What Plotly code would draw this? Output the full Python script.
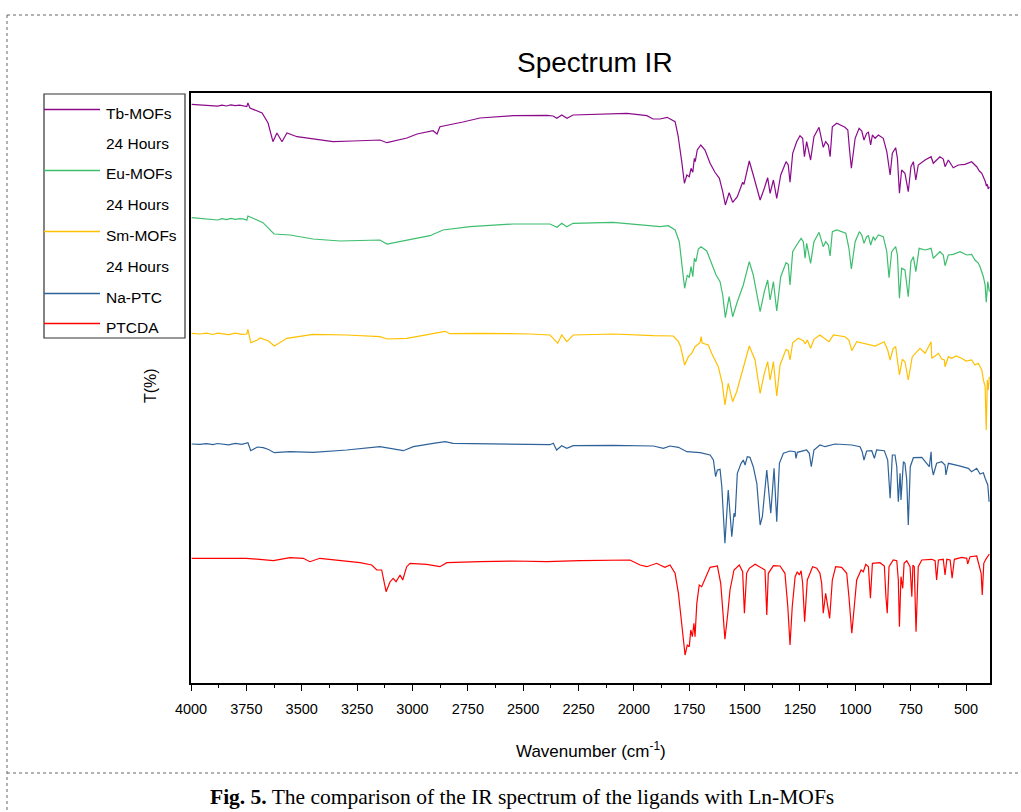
import plotly.graph_objects as go

# ---------------- data (wavenumber cm-1, stacked T values) -------------
tb_wn = [3997, 3960, 3930, 3901, 3880, 3860, 3840, 3820, 3800, 3780, 3760, 3748, 3743, 3734, 3679, 3652,
         3630, 3612, 3589, 3567, 3521, 3449, 3359, 3269, 3147, 3115, 3025, 2979, 2907, 2889, 2876,
         2772, 2695, 2546, 2392, 2365, 2348, 2326, 2302, 2275, 2031, 1941, 1914, 1882, 1850, 1814,
         1801, 1784, 1772, 1761, 1750, 1742, 1734, 1727, 1723, 1714, 1698, 1679, 1656, 1634, 1614,
         1599, 1587, 1570, 1554, 1533, 1509, 1503, 1479, 1461, 1430, 1411, 1396, 1385, 1370, 1355,
         1337, 1313, 1303, 1295, 1283, 1265, 1250, 1238, 1230, 1220, 1202, 1187, 1164, 1145, 1134,
         1122, 1114, 1104, 1084, 1047, 1034, 1027, 1018, 1001, 983, 971, 961, 949, 941, 931, 923,
         911, 896, 874, 858, 843, 833, 818, 810, 801, 791, 776, 761, 749, 738, 727, 716, 685, 658,
         648, 618, 603, 595, 580, 558, 535, 505, 475, 452, 440, 429, 420, 414, 408, 404, 400, 395]
tb_t = [578.7, 578.2, 577.6, 577.5, 576.9, 577.9, 577.0, 578.1, 577.3, 577.8, 577.4, 576.5, 580.0, 575.0, 570.0, 560.0,
        541.3, 550.0, 541.3, 550.0, 546.3, 544.0, 541.3, 542.0, 543.0, 540.3, 545.0, 549.0, 552.3, 549.0, 556.3,
        561.0, 565.0, 567.3, 567.7, 567.0, 564.7, 568.0, 564.7, 568.0, 569.7, 567.3, 564.0, 564.0, 565.7, 561.3,
        548.0, 521.3, 499.7, 508.0, 506.3, 514.7, 510.7, 524.7, 521.3, 533.0, 538.0, 533.0, 519.7, 510.7, 504.7,
        491.3, 478.0, 490.3, 480.7, 486.3, 500.7, 498.7, 522.0, 508.0, 483.0, 494.7, 505.3, 489.7, 503.0, 484.7,
        508.0, 521.3, 518.0, 500.7, 529.7, 541.3, 547.3, 544.7, 526.3, 541.3, 523.0, 546.3, 555.7, 535.7, 541.3,
        538.0, 526.3, 556.3, 559.7, 555.7, 553.0, 534.7, 514.7, 544.7, 554.7, 552.0, 543.0, 549.7, 550.7, 538.0, 548.0,
        544.7, 548.0, 544.7, 531.3, 508.0, 529.7, 535.3, 524.7, 489.7, 513.0, 509.7, 491.3, 516.3, 521.3, 503.0, 518.0, 523.0, 526.3,
        519.7, 526.3, 524.0, 516.3, 523.0, 515.3, 518.0, 518.7, 521.3, 516.3, 512.0, 509.7, 505.0, 502.0, 497.0, 498.7, 494.0, 496.3]

eu_wn = [3997, 3960, 3930, 3901, 3880, 3860, 3840, 3820, 3800, 3780, 3760, 3748, 3743, 3675, 3643, 3625,
         3553, 3449, 3327, 3147, 3115, 3025, 2921, 2862, 2740, 2546, 2379, 2347, 2326, 2303, 2275, 2094,
         1941, 1882, 1845, 1814, 1795, 1783, 1771, 1759, 1750, 1742, 1734, 1727, 1720, 1709, 1697, 1671,
         1649, 1629, 1611, 1599, 1587, 1570, 1554, 1533, 1506, 1479, 1461, 1430, 1411, 1396, 1385, 1370,
         1355, 1337, 1313, 1303, 1295, 1283, 1265, 1245, 1235, 1227, 1220, 1202, 1187, 1164, 1145, 1134,
         1122, 1114, 1104, 1084, 1043, 1029, 1018, 1001, 982, 971, 961, 949, 941, 931, 919, 911, 896,
         874, 858, 848, 836, 818, 810, 801, 791, 776, 761, 749, 738, 727, 712, 685, 658, 648, 618, 603,
         595, 580, 558, 527, 497, 475, 460, 445, 437, 428, 422, 414, 409, 402, 395]
eu_t = [465.3, 464.8, 464.0, 463.7, 463.0, 464.3, 463.3, 464.6, 463.6, 464.4, 463.9, 462.8, 467.0, 460.3, 453.7, 449.0,
        448.0, 444.0, 442.0, 443.0, 439.0, 443.0, 447.3, 453.0, 456.3, 459.0, 459.0, 455.7, 459.7, 456.3, 459.7, 460.7,
        457.3, 456.3, 457.3, 453.0, 441.3, 418.0, 394.7, 408.0, 405.3, 416.3, 406.3, 424.7, 421.3, 434.0, 436.3, 432.0,
        419.7, 408.0, 401.3, 388.0, 365.3, 386.3, 366.3, 381.3, 398.0, 421.3, 408.0, 371.3, 391.3, 403.0, 383.0, 401.3,
        372.0, 406.3, 420.3, 418.7, 398.0, 431.3, 438.0, 444.7, 441.3, 424.7, 439.7, 419.7, 441.3, 450.7, 436.3, 441.3,
        438.0, 427.0, 451.3, 453.0, 449.7, 434.7, 414.0, 441.3, 451.3, 448.0, 439.7, 446.3, 447.3, 438.0, 446.3, 443.0, 448.0,
        446.3, 431.3, 405.3, 431.3, 436.3, 428.0, 384.7, 414.7, 413.0, 386.3, 421.3, 426.3, 411.3, 434.7, 433.0, 434.7, 424.7, 431.3, 428.0,
        417.3, 428.0, 428.7, 431.3, 428.0, 428.7, 423.0, 420.0, 416.3, 410.0, 406.3, 398.0, 380.7, 401.3, 391.3]

sm_wn = [3997, 3960, 3930, 3901, 3880, 3856, 3830, 3800, 3770, 3748, 3743, 3730, 3700, 3688, 3650, 3624,
         3567, 3449, 3296, 3147, 3115, 3025, 2907, 2853, 2830, 2695, 2469, 2379, 2364, 2344, 2326, 2303,
         2274, 2093, 1912, 1882, 1822, 1799, 1789, 1771, 1754, 1739, 1724, 1702, 1696, 1692, 1664, 1649,
         1619, 1601, 1589, 1574, 1554, 1536, 1506, 1479, 1453, 1430, 1411, 1396, 1385, 1370, 1355, 1340,
         1313, 1303, 1295, 1283, 1258, 1235, 1226, 1217, 1202, 1187, 1160, 1137, 1119, 1099, 1047, 1029,
         1016, 994, 956, 911, 870, 854, 843, 829, 818, 809, 801, 788, 776, 761, 743, 708, 685, 658, 655,
         640, 625, 610, 598, 595, 580, 565, 545, 520, 500, 475, 460, 445, 435, 429, 422, 414, 409, 404, 400, 395]
sm_t = [349.7, 349.0, 349.8, 348.5, 349.9, 349.3, 348.3, 349.8, 348.6, 349.0, 353.7, 340.3, 343.0, 345.0, 342.0, 337.0,
        344.7, 348.7, 348.0, 346.3, 344.0, 344.7, 349.7, 351.7, 349.3, 349.7, 349.0, 348.0, 344.7, 339.7, 348.0, 341.3,
        348.0, 349.0, 347.3, 347.0, 347.0, 341.3, 336.3, 318.0, 326.3, 329.7, 336.3, 340.3, 346.3, 340.0, 338.0, 329.7,
        316.3, 299.7, 278.0, 299.7, 281.3, 291.3, 314.7, 337.0, 323.0, 289.7, 309.7, 321.3, 303.0, 321.3, 287.0, 318.0,
        333.7, 332.3, 323.0, 340.3, 344.7, 342.3, 339.0, 343.0, 334.7, 343.7, 348.0, 344.7, 341.3, 348.0, 346.3, 343.0,
        332.3, 341.3, 339.0, 337.0, 341.3, 333.0, 323.0, 334.7, 336.3, 323.0, 308.0, 323.7, 321.3, 303.0, 326.3, 334.7, 329.7, 341.3, 324.7,
        327.0, 329.7, 324.0, 323.0, 316.3, 326.3, 324.7, 327.0, 324.7, 322.0, 323.0, 318.0, 319.7, 316.0, 313.0, 303.0, 296.3, 253.0, 303.0, 293.0, 306.3]

na_wn = [3997, 3960, 3930, 3901, 3880, 3856, 3830, 3800, 3770, 3743, 3730, 3700, 3674, 3650, 3624, 3553,
         3448, 3297, 3147, 3041, 2996, 2906, 2853, 2816, 2545, 2379, 2364, 2349, 2326, 2303, 2274, 2093,
         1912, 1882, 1867, 1837, 1799, 1761, 1701, 1656, 1641, 1631, 1623, 1611, 1603, 1589, 1574, 1558,
         1548, 1543, 1533, 1516, 1506, 1498, 1488, 1476, 1461, 1445, 1430, 1420, 1400, 1382, 1367, 1355,
         1343, 1325, 1295, 1272, 1268, 1262, 1220, 1208, 1199, 1187, 1160, 1137, 1092, 1016, 979, 969,
         961, 949, 926, 914, 904, 869, 854, 843, 833, 821, 813, 806, 798, 794, 783, 776, 768, 761, 752,
         738, 700, 678, 666, 658, 655, 648, 633, 610, 595, 591, 580, 535, 490, 475, 452, 437, 422, 414, 402, 396]
na_t = [239.0, 238.6, 239.3, 238.4, 239.5, 238.9, 238.2, 239.6, 238.7, 240.3, 232.3, 236.0, 235.3, 233.5, 230.3, 231.3,
        230.7, 233.0, 236.3, 232.3, 236.3, 239.7, 241.3, 239.7, 238.7, 238.3, 239.7, 233.0, 237.3, 234.7, 237.3, 237.7,
        237.0, 235.3, 234.7, 237.0, 235.7, 231.3, 230.3, 228.0, 223.0, 206.3, 213.0, 213.7, 196.3, 139.7, 193.0, 146.3,
        169.7, 166.3, 209.7, 219.7, 223.0, 218.0, 226.3, 225.7, 216.3, 199.7, 158.0, 166.3, 213.0, 169.7, 214.7, 161.3,
        219.7, 229.7, 232.0, 231.3, 224.7, 230.7, 233.0, 229.7, 216.3, 233.0, 238.0, 236.3, 239.0, 238.0, 236.3, 231.3,
        223.0, 232.0, 232.3, 224.7, 233.0, 232.3, 223.0, 184.7, 228.0, 228.0, 216.3, 181.3, 209.7, 183.0, 221.3, 219.7, 203.0, 158.0, 216.3,
        225.3, 225.7, 219.7, 216.3, 231.3, 216.3, 208.0, 219.7, 221.3, 218.0, 208.0, 219.7, 217.3, 214.7, 211.3, 214.7, 209.0, 210.3, 204.7, 198.0, 181.3]

ptcda_wn = [3997, 3749, 3628, 3553, 3493, 3463, 3418, 3357, 3237, 3184, 3161, 3139, 3119, 3101, 3087, 3074,
            3056, 3044, 3026, 3011, 2936, 2876, 2845, 2695, 2545, 2394, 2243, 2018, 1972, 1942, 1897, 1882,
            1860, 1837, 1814, 1799, 1784, 1769, 1759, 1750, 1743, 1736, 1729, 1724, 1716, 1705, 1694, 1679,
            1656, 1623, 1608, 1601, 1589, 1576, 1566, 1548, 1524, 1509, 1501, 1491, 1479, 1453, 1423, 1408,
            1400, 1393, 1370, 1340, 1318, 1305, 1295, 1285, 1272, 1262, 1253, 1245, 1238, 1229, 1217, 1193,
            1174, 1160, 1152, 1145, 1134, 1129, 1125, 1116, 1104, 1089, 1062, 1039, 1029, 1016, 1005, 994,
            974, 964, 953, 941, 932, 923, 889, 869, 862, 856, 848, 829, 813, 806, 801, 794, 786, 780, 768,
            753, 745, 740, 734, 726, 716, 700, 655, 640, 633, 625, 603, 595, 587, 572, 563, 553, 520, 497,
            493, 482, 452, 440, 432, 427, 420, 411, 400, 395]
ptcda_t = [124.7, 124.7, 122.3, 125.3, 124.7, 121.3, 124.7, 123.0, 120.3, 118.0, 113.0, 113.0, 91.3, 101.3, 104.7, 101.3,
           108.0, 103.0, 116.3, 119.7, 118.7, 116.3, 120.3, 121.3, 122.0, 121.3, 122.3, 123.0, 118.0, 116.3, 119.7, 118.0,
           115.7, 118.0, 109.7, 89.7, 56.3, 28.0, 38.0, 36.3, 53.0, 46.3, 59.7, 46.3, 79.7, 98.0, 96.3, 104.7,
           115.7, 117.0, 99.7, 79.7, 43.7, 69.7, 93.0, 113.0, 118.0, 111.3, 69.7, 109.7, 114.7, 118.7, 114.7, 113.0,
           68.0, 109.7, 117.3, 117.0, 109.7, 76.3, 38.0, 76.3, 106.3, 111.3, 108.0, 112.3, 99.7, 61.3, 103.0, 116.3,
           114.7, 109.7, 99.7, 69.7, 89.7, 83.0, 80.0, 64.7, 103.0, 116.3, 115.7, 109.7, 86.3, 49.7, 76.3, 103.0,
           113.0, 111.3, 118.7, 116.3, 84.7, 119.7, 120.3, 117.0, 86.3, 69.7, 116.3, 123.0, 122.3, 103.0, 56.3, 106.3, 94.7, 119.7, 122.3,
           116.3, 86.3, 118.0, 116.3, 51.3, 116.3, 123.0, 123.7, 122.3, 103.0, 123.0, 123.7, 108.0, 123.7, 123.0, 104.7, 123.7, 125.7, 124.7,
           119.0, 126.3, 127.0, 118.0, 109.7, 88.0, 119.7, 123.7, 128.0, 129.0]

series_names = ["Tb-MOFs", "Eu-MOFs", "Sm-MOFs", "Na-PTC", "PTCDA"]
series_colors = ["#8B0A8B", "#3DBE6E", "#FFC000", "#2E6299", "#FF0000"]
legend_labels = ["Tb-MOFs", "24 Hours", "Eu-MOFs", "24 Hours", "Sm-MOFs", "24 Hours", "Na-PTC", "PTCDA"]
x_ticks = [4000, 3750, 3500, 3250, 3000, 2750, 2500, 2250, 2000, 1750, 1500, 1250, 1000, 750, 500]

# ---------------- layout geometry (pixels) ----------------
W, H = 1021, 812
L, R, T, B = 191, 990, 93, 683


def px(x):
    return (x - L) / (R - L)


def py(y):
    return (B - y) / (B - T)


fig = go.Figure()
data = [(tb_wn, tb_t), (eu_wn, eu_t), (sm_wn, sm_t), (na_wn, na_t), (ptcda_wn, ptcda_t)]
for (wn, tv), name, col in zip(data, series_names, series_colors):
    fig.add_trace(go.Scatter(x=wn, y=tv, mode="lines", name=name,
                             line=dict(color=col, width=1.2), showlegend=False))

font = "Liberation Sans, Arial, sans-serif"
shapes = []
annotations = []

# outer dashed frame
frame_col = "#666666"
shapes.append(dict(type="line", xref="paper", yref="paper", x0=px(7), x1=px(W), y0=py(15), y1=py(15),
                   line=dict(color=frame_col, width=1, dash="dot")))
shapes.append(dict(type="line", xref="paper", yref="paper", x0=px(7), x1=px(7), y0=py(15), y1=py(H),
                   line=dict(color=frame_col, width=1, dash="dot")))
shapes.append(dict(type="line", xref="paper", yref="paper", x0=px(7), x1=px(W), y0=py(773), y1=py(773),
                   line=dict(color=frame_col, width=1, dash="dot")))

# manual legend
shapes.append(dict(type="rect", xref="paper", yref="paper", x0=px(44), x1=px(185), y0=py(94), y1=py(338),
                   line=dict(color="#333333", width=1.2), fillcolor="rgba(255,255,255,0)"))
legend_y = [113, 143, 174, 204, 235, 266, 297, 327]
legend_col = [series_colors[0], None, series_colors[1], None, series_colors[2], None,
              series_colors[3], series_colors[4]]
for lab, yy, col in zip(legend_labels, legend_y, legend_col):
    if col:
        shapes.append(dict(type="line", xref="paper", yref="paper", x0=px(44), x1=px(100),
                           y0=py(yy - 3.5), y1=py(yy - 3.5), line=dict(color=col, width=1.3)))
    annotations.append(dict(text=lab, xref="paper", yref="paper", x=px(104), y=py(yy),
                            xanchor="left", yanchor="middle", showarrow=False,
                            font=dict(family=font, size=15.5, color="#000000")))

# title & axis titles
annotations.append(dict(text="Spectrum IR", xref="paper", yref="paper", x=px(595), y=py(63),
                        xanchor="center", yanchor="middle", showarrow=False,
                        font=dict(family=font, size=28, color="#000000")))
annotations.append(dict(text="Wavenumber (cm<sup>-1</sup>)", xref="paper", yref="paper", x=px(591), y=py(750),
                        xanchor="center", yanchor="middle", showarrow=False,
                        font=dict(family=font, size=17, color="#000000")))
annotations.append(dict(text="T(%)", xref="paper", yref="paper", x=px(150), y=py(386),
                        xanchor="center", yanchor="middle", showarrow=False, textangle=-90,
                        font=dict(family=font, size=16, color="#000000")))
# caption
annotations.append(dict(text="<b>Fig. 5.</b> The comparison of the IR spectrum of the ligands with Ln-MOFs",
                        xref="paper", yref="paper", x=px(522), y=py(797),
                        xanchor="center", yanchor="middle", showarrow=False,
                        font=dict(family="Liberation Serif, Times New Roman, serif", size=21.5, color="#000000")))

fig.update_layout(
    width=W, height=H,
    margin=dict(l=L, r=W - R, t=T, b=H - B, pad=0),
    paper_bgcolor="white", plot_bgcolor="white",
    showlegend=False,
    shapes=shapes, annotations=annotations,
    xaxis=dict(range=[4000, 392], tickmode="array", tickvals=x_ticks, ticktext=[str(v) for v in x_ticks],
               ticks="outside", ticklen=6, tickwidth=1, tickcolor="black",
               minor=dict(tickmode="array", tickvals=[v - 125 for v in x_ticks[:-1]] + [375],
                          ticks="outside", ticklen=3, tickwidth=1, tickcolor="black"),
               showline=True, linecolor="black", linewidth=1.5, mirror=True,
               showgrid=False, zeroline=False, ticklabelstandoff=6,
               tickfont=dict(family=font, size=14.5, color="black")),
    yaxis=dict(range=[0, 590], showticklabels=False, ticks="", showgrid=False, zeroline=False,
               showline=True, linecolor="black", linewidth=2, mirror=True),
)

fig.write_html("out.html")
